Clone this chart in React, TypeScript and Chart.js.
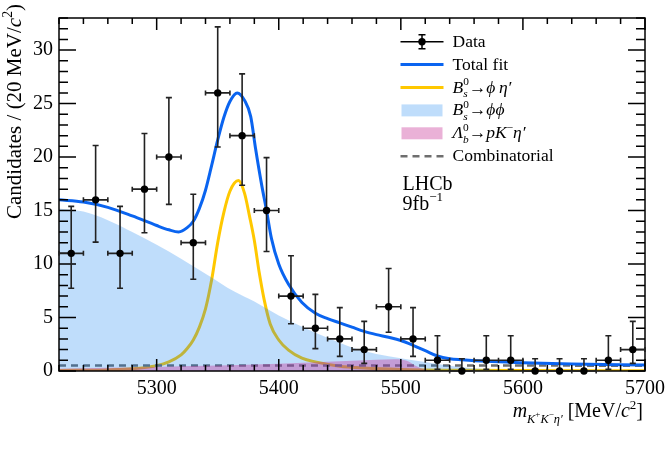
import { useEffect, useRef } from "react";
import { Chart, registerables } from "chart.js";

Chart.register(...registerables);

// ---- binned candidates, 20 MeV/c^2 bins ----
const binCentres = [5230, 5250, 5270, 5290, 5310, 5330, 5350, 5370, 5390, 5410, 5430, 5450, 5470, 5490, 5510, 5530, 5550, 5570, 5590, 5610, 5630, 5650, 5670, 5690];
const candidates = [11, 16, 11, 17, 20, 12, 26, 22, 15, 7, 4, 3, 2, 6, 3, 1, 0, 1, 1, 0, 0, 0, 1, 2];
const errDown = [3.27, 3.95, 3.27, 4.08, 4.42, 3.42, 5.06, 4.64, 3.83, 2.58, 1.91, 1.63, 1.29, 2.38, 1.63, 0.83, 0, 0.83, 0.83, 0, 0, 0, 0.83, 1.29];
const errUp = [4.39, 5.08, 4.39, 5.2, 5.56, 4.53, 6.17, 5.78, 4.95, 3.77, 3.16, 2.92, 2.64, 3.58, 2.92, 2.3, 1.15, 2.3, 2.3, 1.15, 1.15, 1.15, 2.3, 2.64];
const binHalfWidth = 10;

// ---- fit components ----
const totalFitMass = [5220, 5240, 5260, 5280, 5300, 5310, 5318, 5325, 5330, 5335, 5340, 5345, 5350, 5355, 5360, 5366, 5372, 5377, 5381, 5386, 5390, 5394, 5400, 5408, 5419, 5430, 5440, 5450, 5460, 5470, 5480, 5490, 5500, 5510, 5520, 5530, 5540, 5550, 5570, 5600, 5640, 5700];
const totalFitValue = [16.0, 15.8, 15.3, 14.5, 13.6, 13.2, 13.0, 13.4, 14.0, 15.2, 16.9, 19.2, 21.6, 23.7, 25.2, 26.0, 25.3, 23.8, 20.8, 17.4, 15.0, 12.4, 10.0, 8.1, 6.4, 5.4, 4.9, 4.5, 4.1, 3.7, 3.4, 3.15, 2.85, 2.4, 1.9, 1.4, 1.15, 1.05, 0.9, 0.78, 0.66, 0.56];

const phiEtaMass = [5220, 5260, 5280, 5300, 5310, 5320, 5325, 5330, 5335, 5340, 5345, 5350, 5355, 5360, 5367, 5372, 5376, 5380, 5384, 5388, 5393, 5400, 5408, 5419, 5430, 5450, 5470, 5500, 5550, 5600, 5700];
const phiEtaValue = [0.05, 0.1, 0.2, 0.5, 0.85, 1.5, 2.1, 2.9, 4.1, 5.8, 8.5, 12.0, 14.8, 16.8, 17.8, 16.6, 14.5, 12.2, 9.2, 6.7, 4.4, 2.9, 1.95, 1.2, 0.85, 0.45, 0.28, 0.15, 0.07, 0.04, 0.02];

const phiPhiMass = [5220, 5240, 5260, 5280, 5300, 5320, 5340, 5364, 5380, 5400, 5420, 5440, 5460, 5480, 5500, 5520, 5540, 5560, 5580, 5600, 5620, 5700];
const phiPhiValue = [15.2, 14.9, 14.1, 13.0, 11.8, 10.5, 9.1, 7.4, 6.5, 5.2, 4.1, 3.1, 2.2, 1.6, 1.2, 0.85, 0.5, 0.25, 0.1, 0.03, 0, 0];

const lambdaMass = [5220, 5260, 5300, 5340, 5380, 5420, 5450, 5480, 5495, 5505, 5512, 5520, 5530, 5540, 5700];
const lambdaValue = [0.22, 0.3, 0.38, 0.48, 0.6, 0.78, 0.92, 1.05, 1.1, 0.95, 0.5, 0.15, 0.02, 0, 0];

const combMass = [5220, 5700];
const combValue = [0.52, 0.5];

// ---- axes ----
const massMin = 5220;
const massMax = 5700;
const countMax = 33;
const xTickValues = [5300, 5400, 5500, 5600, 5700];
const yTickValues = [0, 5, 10, 15, 20, 25, 30];

const SERIF = '"Liberation Serif", "Times New Roman", serif';
const fitBlue = "#0a64f0";
const phiEtaYellow = "#ffc800";
const phiPhiFill = "rgba(0, 120, 240, 0.25)";
const lambdaFill = "rgba(200, 50, 150, 0.38)";
const combGrey = "#6e6e6e";

Chart.defaults.font.family = SERIF;
Chart.defaults.color = "#000";

type Run = { t: string; it?: boolean; s?: number; dy?: number; over?: boolean };

function drawRuns(ctx: CanvasRenderingContext2D, runs: Run[], x: number, y: number, size: number, draw = true): number {
  let cx = x;
  let prevStart = x;
  let prevEnd = x;
  for (const r of runs) {
    const fs = size * (r.s ?? 1);
    ctx.font = `${r.it ? "italic " : ""}${fs}px ${SERIF}`;
    const start = r.over ? prevStart : cx;
    const w = ctx.measureText(r.t).width;
    if (draw) ctx.fillText(r.t, start, y + (r.dy ?? 0) * size);
    const end = start + w;
    if (r.over) {
      cx = Math.max(prevEnd, end);
    } else {
      cx = end;
      prevStart = start;
      prevEnd = end;
    }
  }
  return cx - x;
}

const SUB = 0.28;
const SUP = -0.42;
const PHI = "\u03d5";

const legendRows: { kind: string; color?: string; runs: Run[] }[] = [
  { kind: "data", runs: [{ t: "Data" }] },
  { kind: "line", color: fitBlue, runs: [{ t: "Total fit" }] },
  {
    kind: "line",
    color: phiEtaYellow,
    runs: [
      { t: "B", it: true },
      { t: "s", it: true, s: 0.65, dy: SUB },
      { t: "0", s: 0.65, dy: SUP, over: true },
      { t: "\u2192" },
      { t: PHI + "\u2009\u03b7\u2032", it: true },
    ],
  },
  {
    kind: "box",
    color: phiPhiFill,
    runs: [
      { t: "B", it: true },
      { t: "s", it: true, s: 0.65, dy: SUB },
      { t: "0", s: 0.65, dy: SUP, over: true },
      { t: "\u2192" },
      { t: PHI + PHI, it: true },
    ],
  },
  {
    kind: "box",
    color: lambdaFill,
    runs: [
      { t: "\u039b", it: true },
      { t: "b", it: true, s: 0.65, dy: SUB },
      { t: "0", s: 0.65, dy: SUP, over: true },
      { t: "\u2192" },
      { t: "pK", it: true },
      { t: "\u2212", s: 0.65, dy: SUP },
      { t: "\u03b7\u2032", it: true },
    ],
  },
  { kind: "dash", color: combGrey, runs: [{ t: "Combinatorial" }] },
];

const xTitleRuns: Run[] = [
  { t: "m", it: true },
  { t: "K", it: true, s: 0.62, dy: 0.3 },
  { t: "+", s: 0.45, dy: 0.02 },
  { t: "K", it: true, s: 0.62, dy: 0.3 },
  { t: "\u2212", s: 0.45, dy: 0.02 },
  { t: "\u03b7\u2032", it: true, s: 0.62, dy: 0.3 },
  { t: " [MeV/" },
  { t: "c", it: true },
  { t: "2", s: 0.65, dy: SUP },
  { t: "]" },
];

const yTitleRuns: Run[] = [
  { t: "Candidates / (20 MeV/" },
  { t: "c", it: true },
  { t: "2", s: 0.65, dy: SUP },
  { t: ")" },
];

const axisFrame = {
  id: "axisFrame",
  afterDatasetsDraw(chart: any) {
    const { ctx, chartArea: a, scales } = chart;
    const x = scales.x;
    const y = scales.y;
    ctx.save();
    ctx.strokeStyle = "#000";
    ctx.lineWidth = 1.5;
    ctx.beginPath();
    for (let v = massMin; v <= massMax; v += 20) {
      const px = x.getPixelForValue(v);
      const len = v % 100 === 0 ? 12 : 6;
      ctx.moveTo(px, a.bottom);
      ctx.lineTo(px, a.bottom - len);
      ctx.moveTo(px, a.top);
      ctx.lineTo(px, a.top + len);
    }
    for (let v = 0; v <= countMax; v += 1) {
      const py = y.getPixelForValue(v);
      const len = v % 5 === 0 ? 17 : 9;
      ctx.moveTo(a.left, py);
      ctx.lineTo(a.left + len, py);
      ctx.moveTo(a.right, py);
      ctx.lineTo(a.right - len, py);
    }
    ctx.stroke();
    ctx.strokeRect(a.left, a.top, a.right - a.left, a.bottom - a.top);
    ctx.restore();
  },
};

const errorBars = {
  id: "errorBars",
  afterDatasetsDraw(chart: any) {
    const { ctx, scales } = chart;
    const x = scales.x;
    const y = scales.y;
    ctx.save();
    ctx.strokeStyle = "#222";
    ctx.lineWidth = 1.6;
    ctx.beginPath();
    binCentres.forEach((m, i) => {
      const px = x.getPixelForValue(m);
      const py = y.getPixelForValue(candidates[i]);
      const pl = x.getPixelForValue(m - binHalfWidth);
      const pr = x.getPixelForValue(m + binHalfWidth);
      const pt = y.getPixelForValue(candidates[i] + errUp[i]);
      const pb = y.getPixelForValue(candidates[i] - errDown[i]);
      ctx.moveTo(pl, py);
      ctx.lineTo(pr, py);
      ctx.moveTo(pl, py - 2.5);
      ctx.lineTo(pl, py + 2.5);
      ctx.moveTo(pr, py - 2.5);
      ctx.lineTo(pr, py + 2.5);
      ctx.moveTo(px, pt);
      ctx.lineTo(px, pb);
      ctx.moveTo(px - 3, pt);
      ctx.lineTo(px + 3, pt);
      if (errDown[i] > 0) {
        ctx.moveTo(px - 3, pb);
        ctx.lineTo(px + 3, pb);
      }
    });
    ctx.stroke();
    ctx.fillStyle = "#000";
    binCentres.forEach((m, i) => {
      ctx.beginPath();
      ctx.arc(x.getPixelForValue(m), y.getPixelForValue(candidates[i]), 3.7, 0, Math.PI * 2);
      ctx.fill();
    });
    ctx.restore();
  },
};

const annotations = {
  id: "annotations",
  afterDraw(chart: any) {
    const { ctx, chartArea: a } = chart;
    ctx.save();
    ctx.fillStyle = "#000";
    ctx.textBaseline = "alphabetic";

    // legend
    const symL = 400.5;
    const symR = 443.5;
    const textX = 452.5;
    const row0 = 41.7;
    const rowStep = 22.9;
    legendRows.forEach((row, i) => {
      const cy = row0 + i * rowStep;
      if (row.kind === "data") {
        ctx.strokeStyle = "#000";
        ctx.lineWidth = 1.5;
        ctx.beginPath();
        ctx.moveTo(symL, cy);
        ctx.lineTo(symR, cy);
        const cx = (symL + symR) / 2;
        ctx.moveTo(cx, cy - 7);
        ctx.lineTo(cx, cy + 7);
        ctx.moveTo(cx - 3.5, cy - 7);
        ctx.lineTo(cx + 3.5, cy - 7);
        ctx.moveTo(cx - 3.5, cy + 7);
        ctx.lineTo(cx + 3.5, cy + 7);
        ctx.stroke();
        ctx.beginPath();
        ctx.arc(cx, cy, 3.7, 0, Math.PI * 2);
        ctx.fill();
      } else if (row.kind === "line") {
        ctx.strokeStyle = row.color!;
        ctx.lineWidth = 3;
        ctx.beginPath();
        ctx.moveTo(symL, cy);
        ctx.lineTo(symR, cy);
        ctx.stroke();
      } else if (row.kind === "box") {
        ctx.fillStyle = row.color!;
        ctx.fillRect(symL + 1, cy - 6, symR - symL - 2, 12);
        ctx.fillStyle = "#000";
      } else if (row.kind === "dash") {
        ctx.strokeStyle = row.color!;
        ctx.lineWidth = 2.5;
        ctx.setLineDash([7, 5]);
        ctx.beginPath();
        ctx.moveTo(symL, cy);
        ctx.lineTo(symR, cy);
        ctx.stroke();
        ctx.setLineDash([]);
      }
      ctx.fillStyle = "#000";
      drawRuns(ctx, row.runs, textX, cy + 5, 17.5);
    });

    // experiment label
    drawRuns(ctx, [{ t: "LHCb" }], 402.5, 189.5, 20);
    drawRuns(ctx, [{ t: "9fb" }, { t: "\u22121", s: 0.65, dy: -0.42 }], 402.5, 209.5, 20);

    // x-axis title, right aligned to the frame
    const xw = drawRuns(ctx, xTitleRuns, 0, 0, 20, false);
    drawRuns(ctx, xTitleRuns, a.right - 2 - xw, 417, 20);

    // y-axis title, rotated, aligned to the top
    const yw = drawRuns(ctx, yTitleRuns, 0, 0, 21, false);
    ctx.translate(21, 4 + yw);
    ctx.rotate(-Math.PI / 2);
    drawRuns(ctx, yTitleRuns, 0, 0, 21);
    ctx.restore();
  },
};

function pairs(xs: number[], ys: number[]) {
  return xs.map((x, i) => ({ x, y: ys[i] }));
}

const tickFont = { family: SERIF, size: 20 };

export default function App() {
  const canvasRef = useRef<HTMLCanvasElement | null>(null);

  useEffect(() => {
    const canvas = canvasRef.current;
    if (!canvas) return;
    const chart = new Chart(canvas, {
      type: "line",
      data: {
        datasets: [
          {
            label: "Data",
            data: pairs(binCentres, candidates),
            showLine: false,
            pointRadius: 0,
            order: 0,
          },
          {
            label: "Total fit",
            data: pairs(totalFitMass, totalFitValue),
            borderColor: fitBlue,
            borderWidth: 3,
            pointRadius: 0,
            fill: false,
            cubicInterpolationMode: "monotone",
            order: 1,
          },
          {
            label: "Lb -> p K eta'",
            data: pairs(lambdaMass, lambdaValue),
            borderWidth: 0,
            borderColor: "rgba(0,0,0,0)",
            backgroundColor: lambdaFill,
            pointRadius: 0,
            fill: "origin",
            cubicInterpolationMode: "monotone",
            order: 2,
          },
          {
            label: "Bs -> phi phi",
            data: pairs(phiPhiMass, phiPhiValue),
            borderWidth: 0,
            borderColor: "rgba(0,0,0,0)",
            backgroundColor: phiPhiFill,
            pointRadius: 0,
            fill: "origin",
            cubicInterpolationMode: "monotone",
            order: 3,
          },
          {
            label: "Combinatorial",
            data: pairs(combMass, combValue),
            borderColor: combGrey,
            borderWidth: 2.5,
            borderDash: [7, 5],
            pointRadius: 0,
            fill: false,
            order: 4,
          },
          {
            label: "Bs -> phi eta'",
            data: pairs(phiEtaMass, phiEtaValue),
            borderColor: phiEtaYellow,
            borderWidth: 3,
            pointRadius: 0,
            fill: false,
            cubicInterpolationMode: "monotone",
            order: 5,
          },
        ],
      },
      options: {
        responsive: false,
        animation: false,
        devicePixelRatio: 1,
        layout: { padding: { top: 14, right: 27, left: 0, bottom: 0 } },
        plugins: {
          legend: { display: false },
          tooltip: { enabled: false },
        },
        scales: {
          x: {
            type: "linear",
            min: massMin,
            max: massMax,
            grid: { display: false, drawTicks: false },
            border: { display: false },
            ticks: {
              font: tickFont,
              color: "#000",
              padding: 6,
              maxRotation: 0,
              callback: (v: any) => String(v),
            },
            afterBuildTicks: (s: any) => {
              s.ticks = xTickValues.map((value) => ({ value }));
            },
            afterFit: (s: any) => {
              s.height = 97;
            },
          },
          y: {
            type: "linear",
            min: 0,
            max: countMax,
            grid: { display: false, drawTicks: false },
            border: { display: false },
            ticks: {
              font: tickFont,
              color: "#000",
              padding: 6,
              callback: (v: any) => String(v),
            },
            afterBuildTicks: (s: any) => {
              s.ticks = yTickValues.map((value) => ({ value }));
            },
            afterFit: (s: any) => {
              s.width = 59;
            },
          },
        },
      },
      plugins: [axisFrame, errorBars, annotations],
    });
    return () => chart.destroy();
  }, []);

  return (
    <div style={{ position: "absolute", left: 0, top: 0, width: 672, height: 468, background: "#fff" }}>
      <canvas ref={canvasRef} width={672} height={468} style={{ display: "block" }} />
    </div>
  );
}
